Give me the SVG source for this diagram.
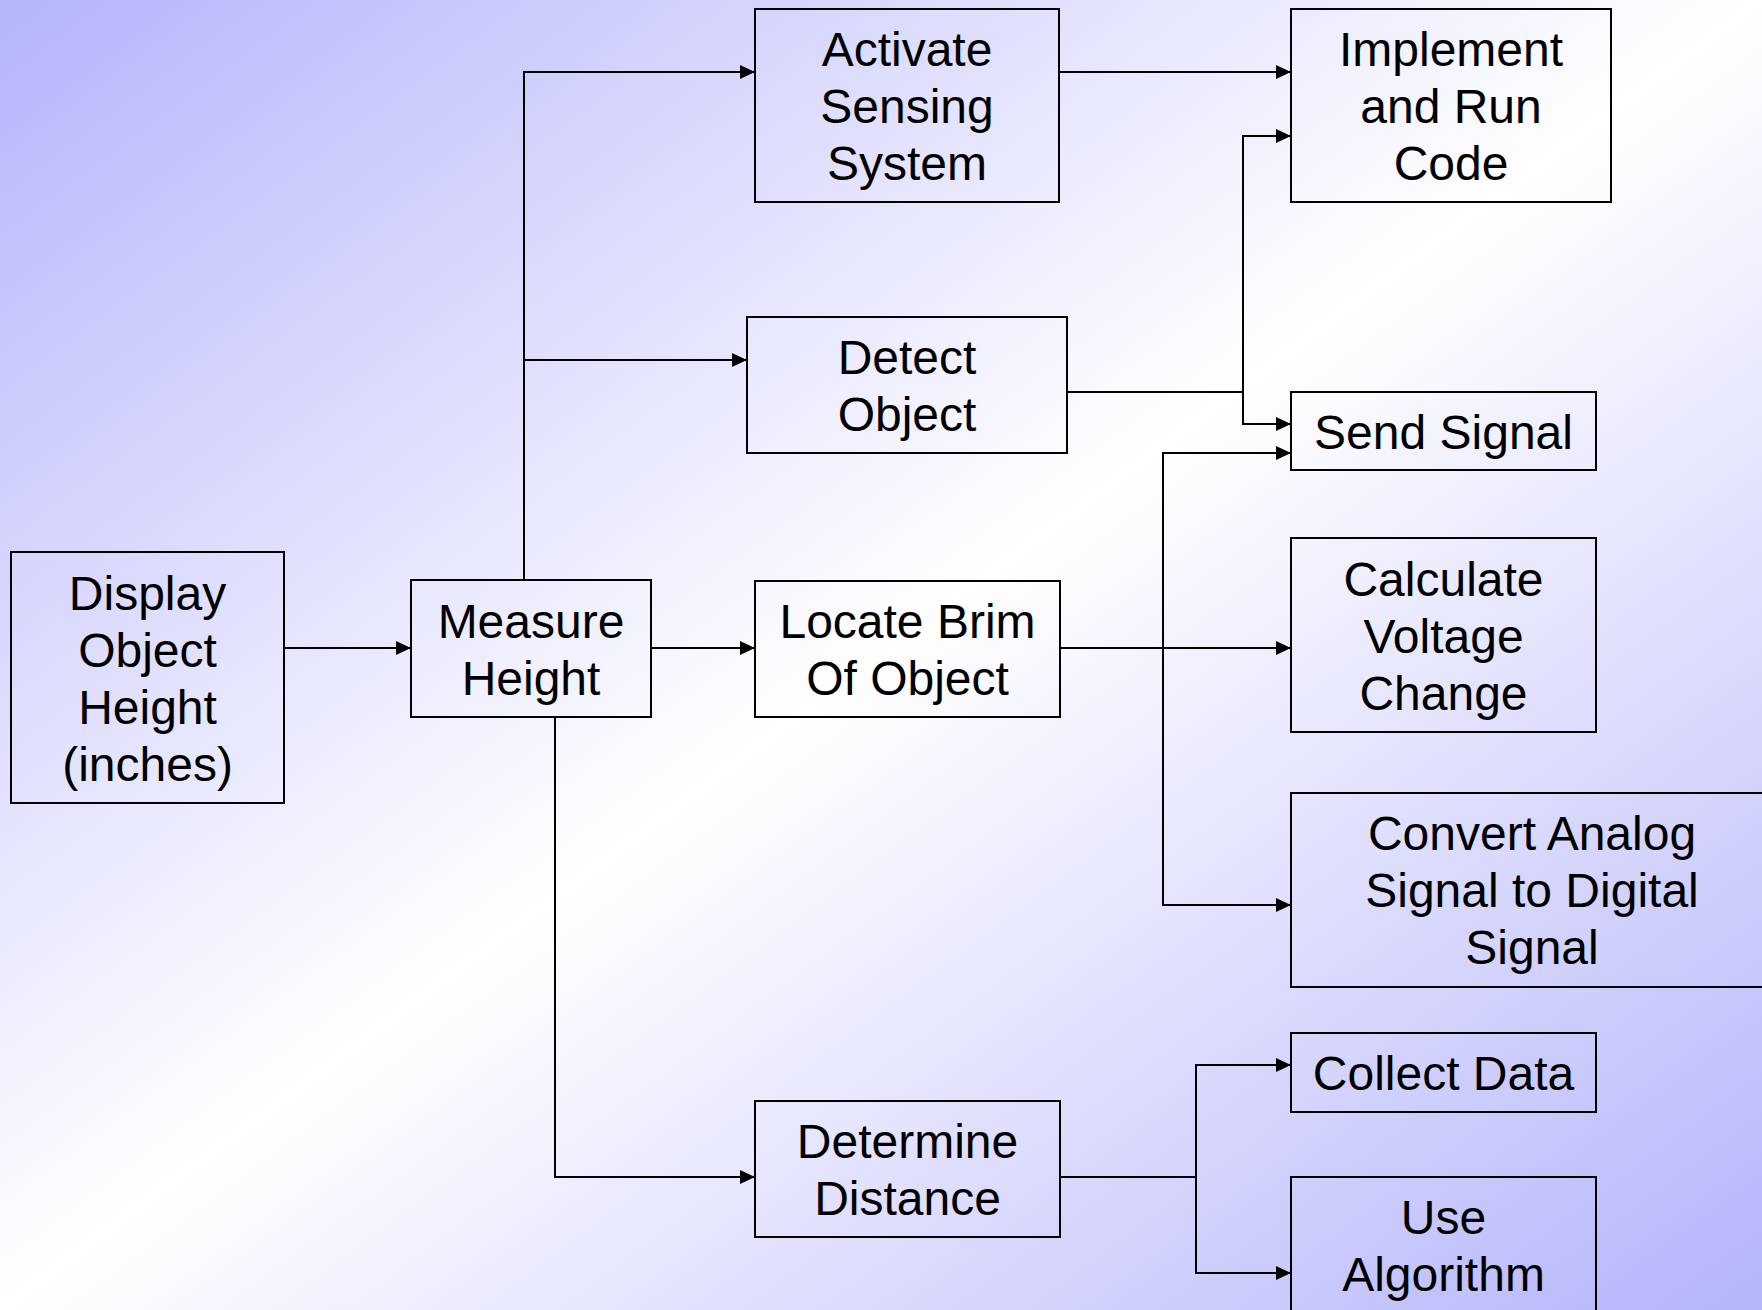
<svg xmlns="http://www.w3.org/2000/svg" width="1762" height="1310" viewBox="0 0 1762 1310">
<defs>
<linearGradient id="bg" x1="0" y1="0" x2="1" y2="1">
<stop offset="0" stop-color="#b4b4fb"/>
<stop offset="0.5" stop-color="#ffffff"/>
<stop offset="1" stop-color="#b4b4fb"/>
</linearGradient>
<marker id="arr" markerUnits="userSpaceOnUse" markerWidth="16" markerHeight="14" refX="15" refY="7" orient="auto">
<path d="M0,0 L15,7 L0,14 z" fill="#000"/>
</marker>
<style>
.box{fill:none;stroke:#000;stroke-width:2}
.t{font-family:"Liberation Sans",Arial,sans-serif;font-size:48px;fill:#000;text-anchor:middle}
.c{fill:none;stroke:#000;stroke-width:2}
.a{marker-end:url(#arr)}
</style>
</defs>
<rect x="0" y="0" width="1762" height="1310" fill="url(#bg)"/>
<g id="connectors">
<path class="c a" d="M284 648 H411"/>
<path class="c a" d="M524 580 V72 H755"/>
<path class="c a" d="M524 360 H747"/>
<path class="c a" d="M651 648 H755"/>
<path class="c a" d="M555 717 V1177 H755"/>
<path class="c a" d="M1059 72 H1291"/>
<path class="c" d="M1067 392 H1243"/>
<path class="c a" d="M1243 392 V136 H1291"/>
<path class="c a" d="M1243 392 V424 H1291"/>
<path class="c a" d="M1060 648 H1291"/>
<path class="c a" d="M1163 648 V453 H1291"/>
<path class="c a" d="M1163 648 V905 H1291"/>
<path class="c" d="M1060 1177 H1196"/>
<path class="c a" d="M1196 1177 V1065 H1291"/>
<path class="c a" d="M1196 1177 V1273 H1291"/>
</g>
<g id="display">
<rect class="box" x="11" y="552" width="273" height="251"/>
<text class="t" x="147.5"><tspan x="147.5" y="609.5">Display</tspan><tspan x="147.5" y="666.5">Object</tspan><tspan x="147.5" y="723.5">Height</tspan><tspan x="147.5" y="780.5">(inches)</tspan></text>
</g>
<g id="measure">
<rect class="box" x="411" y="580" width="240" height="137"/>
<text class="t"><tspan x="531" y="638">Measure</tspan><tspan x="531" y="695">Height</tspan></text>
</g>
<g id="activate">
<rect class="box" x="755" y="9" width="304" height="193"/>
<text class="t"><tspan x="907" y="66">Activate</tspan><tspan x="907" y="123">Sensing</tspan><tspan x="907" y="180">System</tspan></text>
</g>
<g id="detect">
<rect class="box" x="747" y="317" width="320" height="136"/>
<text class="t"><tspan x="907" y="374">Detect</tspan><tspan x="907" y="431">Object</tspan></text>
</g>
<g id="locate">
<rect class="box" x="755" y="581" width="305" height="136"/>
<text class="t"><tspan x="907.5" y="638">Locate Brim</tspan><tspan x="907.5" y="695">Of Object</tspan></text>
</g>
<g id="determine">
<rect class="box" x="755" y="1101" width="305" height="136"/>
<text class="t"><tspan x="907.5" y="1158">Determine</tspan><tspan x="907.5" y="1215">Distance</tspan></text>
</g>
<g id="implement">
<rect class="box" x="1291" y="9" width="320" height="193"/>
<text class="t"><tspan x="1451" y="66">Implement</tspan><tspan x="1451" y="123">and Run</tspan><tspan x="1451" y="180">Code</tspan></text>
</g>
<g id="send">
<rect class="box" x="1291" y="392" width="305" height="78"/>
<text class="t" x="1443.5" y="448.5">Send Signal</text>
</g>
<g id="calculate">
<rect class="box" x="1291" y="538" width="305" height="194"/>
<text class="t"><tspan x="1443.5" y="595.5">Calculate</tspan><tspan x="1443.5" y="652.5">Voltage</tspan><tspan x="1443.5" y="709.5">Change</tspan></text>
</g>
<g id="convert">
<rect class="box" x="1291" y="793" width="482" height="194"/>
<text class="t"><tspan x="1532" y="850">Convert Analog</tspan><tspan x="1532" y="907">Signal to Digital</tspan><tspan x="1532" y="964">Signal</tspan></text>
</g>
<g id="collect">
<rect class="box" x="1291" y="1033" width="305" height="79"/>
<text class="t" x="1443.5" y="1090">Collect Data</text>
</g>
<g id="algorithm">
<rect class="box" x="1291" y="1177" width="305" height="136"/>
<text class="t"><tspan x="1443.5" y="1234">Use</tspan><tspan x="1443.5" y="1291">Algorithm</tspan></text>
</g>
</svg>
